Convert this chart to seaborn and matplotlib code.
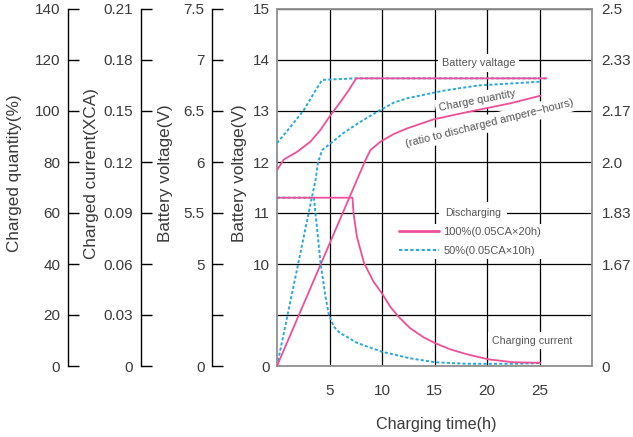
import numpy as np
import pandas as pd
import matplotlib.pyplot as plt
import seaborn as sns
from matplotlib.lines import Line2D

# values
# battery voltage (V) while charging, 100% and 50% discharged
volt_t_100 = [0, 0.65, 1.92, 3.19, 4.14, 5.0, 6.05, 6.84, 7.54, 25.65]
volt_100 = [11.84, 12.05, 12.2, 12.4, 12.63, 12.89, 13.18, 13.41, 13.64, 13.64]
volt_t_50 = [0, 1.29, 2.56, 3.51, 4.3, 7.45, 25.65]
volt_50 = [12.37, 12.69, 13.02, 13.35, 13.61, 13.64, 13.64]

# charged quantity (%)
qty_t_100 = [0, 8.43, 8.9, 9.86, 11.13, 12.4, 14.9, 17.0, 19.1, 22.2, 25.1]
qty_100 = [0, 80.8, 84.7, 88, 91, 93.2, 96.7, 98.6, 100.4, 103, 106]
qty_t_50 = [0, 3.67, 3.89, 4.3, 5.1, 6.37, 7.96, 9.54, 11.13, 12.4, 15.9, 19.1, 25.1]
qty_50 = [0, 73, 79.5, 84.7, 87.3, 91.5, 95.8, 99.7, 103.3, 105, 108, 110, 111.5]

# charging current (xCA)
cur_t_100 = [0, 7.19, 7.29, 7.61, 8.3, 9.19, 9.99, 10.78, 11.57, 12.69, 13.95, 15.07, 16.5,
             18.09, 20.14, 22.52, 25.07]
cur_100 = [0.099, 0.099, 0.0898, 0.076, 0.0604, 0.0496, 0.0428, 0.0349, 0.029, 0.0222, 0.0169,
           0.0134, 0.0098, 0.0069, 0.0039, 0.0022, 0.0019]
cur_t_50 = [0, 3.51, 3.83, 4.15, 4.62, 4.94, 5.42, 6.02, 6.37, 7.62, 9.99, 12.69, 15.07, 18.09,
            22.5, 25.07]
cur_50 = [0.099, 0.099, 0.080, 0.0604, 0.0408, 0.030, 0.0231, 0.0192, 0.0182, 0.0136, 0.0084,
          0.0045, 0.0022, 0.0013, 0.0013, 0.0017]

# axis ticks / labels
x_ticks = [5, 10, 15, 20, 25]
v_ticks = [0, 5, 10, 11, 12, 13, 14, 15]
v_labels = ['0', '', '10', '11', '12', '13', '14', '15']
cell_labels = ['0', '', '1.67', '1.83', '2.0', '2.17', '2.33', '2.5']
v6_labels = ['0', '', '5', '5.5', '6', '6.5', '7', '7.5']
qty_ticks = [0, 20, 40, 60, 80, 100, 120, 140]
cur_ticks = [0, 0.03, 0.06, 0.09, 0.12, 0.15, 0.18, 0.21]
cur_labels = ['0', '0.03', '0.06', '0.09', '0.12', '0.15', '0.18', '0.21']
legend_labels = ['100%(0.05CA\u00d720h)', '50%(0.05CA\u00d710h)']

PINK = '#ef4f98'
CYAN = '#2aa8de'
TXT = '#3a3a3a'
NOTE = '#555555'
DOTS = (0, (1.6, 1.1))
LW_P = 1.3
LW_C = 1.4

sns.set_theme(style='white')
plt.rcParams['font.family'] = ['Liberation Sans', 'DejaVu Sans']


# voltage axis is broken: 0..10 squeezed into two grid rows
def fwd(v):
    v = np.asarray(v, dtype=float)
    return np.where(v < 10, v / 5, v - 8)


def inv(u):
    u = np.asarray(u, dtype=float)
    return np.where(u < 2, u * 5, u + 8)


fig = plt.figure(figsize=(6.33, 4.37), dpi=100)
ax = fig.add_axes([277 / 633, 71 / 437, 315 / 633, 357 / 437])
ax.set_xlim(0, 30)
ax.set_yscale('function', functions=(fwd, inv))
ax.set_ylim(0, 15)
ax.set_xticks(x_ticks)
ax.set_yticks(v_ticks, v_labels)
ax.grid(True, color='black', linewidth=0.9)
for s in ax.spines.values():
    s.set_color('#909090')
    s.set_linewidth(1.3)
ax.tick_params(axis='x', length=0, pad=13, labelsize=11, labelcolor=TXT)
ax.tick_params(axis='y', length=0, pad=5, labelsize=11, labelcolor=TXT)

# right axis: cell voltage labels
axr = ax.twinx()
axr.set_yscale('function', functions=(fwd, inv))
axr.set_ylim(0, 15)
axr.set_yticks(v_ticks, cell_labels)
axr.tick_params(axis='y', length=0, pad=7, labelsize=11, labelcolor=TXT)
for s in axr.spines.values():
    s.set_visible(False)


def side_axis(pos, label, label_x):
    a = ax.twinx()
    a.yaxis.tick_left()
    a.yaxis.set_label_position('left')
    for k, s in a.spines.items():
        s.set_visible(k == 'left')
    a.spines['left'].set_position(('axes', pos))
    a.spines['left'].set_color('black')
    a.spines['left'].set_linewidth(1)
    a.tick_params(axis='y', direction='in', length=8, width=1, color='black',
                  pad=5.5, labelsize=11, labelcolor=TXT)
    a.set_ylabel(label, fontsize=12.3, color=TXT)
    a.yaxis.set_label_coords(label_x, 0.54)
    return a


ax_q = side_axis(-0.664, 'Charged quantity(%)', -0.810)
ax_c = side_axis(-0.432, 'Charged current(XCA)', -0.565)
ax_v6 = side_axis(-0.206, 'Battery voltage(V)', -0.330)

# curves
sns.lineplot(x=volt_t_50, y=volt_50, ax=ax, color=CYAN, linewidth=LW_C, linestyle=DOTS, zorder=4)
sns.lineplot(x=volt_t_100, y=volt_100, ax=ax, color=PINK, linewidth=LW_P, zorder=5)

sns.lineplot(x=qty_t_50, y=qty_50, ax=ax_q, color=CYAN, linewidth=LW_C, linestyle=DOTS)
sns.lineplot(x=qty_t_100, y=qty_100, ax=ax_q, color=PINK, linewidth=LW_P)

sns.lineplot(x=cur_t_50, y=cur_50, ax=ax_c, color=CYAN, linewidth=LW_C, linestyle=DOTS)
sns.lineplot(x=cur_t_100, y=cur_100, ax=ax_c, color=PINK, linewidth=LW_P)

ax_q.set_ylim(0, 140)
ax_q.set_yticks(qty_ticks)
ax_c.set_ylim(0, 0.21)
ax_c.set_yticks(cur_ticks, cur_labels)
ax_v6.set_yscale('function', functions=(fwd, inv))
ax_v6.set_ylim(0, 15)
ax_v6.set_yticks(v_ticks, v6_labels)
for a in (ax_q, ax_c, ax_v6, axr):
    a.set_xlim(0, 30)

ax.set_xlabel('Charging time(h)', fontsize=11.6, color=TXT)
ax.xaxis.set_label_coords(0.505, -0.143)
ax.set_ylabel('Battery voltage(V)', fontsize=12.3, color=TXT)
ax.yaxis.set_label_coords(-0.095, 0.54)

# annotations
box = dict(facecolor='white', edgecolor='none', boxstyle='square,pad=0.35')
ax.text(19.23, 13.94, 'Battery valtage', fontsize=7.8, color=NOTE,
        ha='center', va='center', bbox=box, zorder=3)
ax.text(19.1, 13.2, 'Charge quantity', fontsize=7.9, color=NOTE,
        ha='center', va='center', rotation=11, rotation_mode='anchor', bbox=box, zorder=3)
ax.text(20.2, 12.76, '(ratio to discharged ampere\u2212hours)', fontsize=7.9, color=NOTE,
        ha='center', va='center', rotation=14, rotation_mode='anchor', bbox=box, zorder=3)
ax.text(20.47, 2.48, 'Charging current', fontsize=7.7, color=NOTE,
        ha='left', va='center', bbox=box, zorder=3)

handles = [Line2D([], [], color=PINK, linewidth=2),
           Line2D([], [], color=CYAN, linewidth=1.5, linestyle=DOTS)]
leg = ax.legend(handles, legend_labels, loc='upper left', bbox_to_anchor=(0.376, 0.399),
                borderaxespad=0, frameon=True, facecolor='white', edgecolor='none',
                framealpha=1, fancybox=False, fontsize=8, handlelength=3.6,
                handletextpad=0.4, labelspacing=0.82, borderpad=0.3)
for t in leg.get_texts():
    t.set_color(NOTE)
box_d = dict(facecolor='white', edgecolor='none', boxstyle='square,pad=0.55')
ax.text(16.02, 11.0, 'Discharging', fontsize=7.6, color=NOTE,
        ha='left', va='center', bbox=box_d, zorder=6)

fig.savefig('out.png', dpi=100)
